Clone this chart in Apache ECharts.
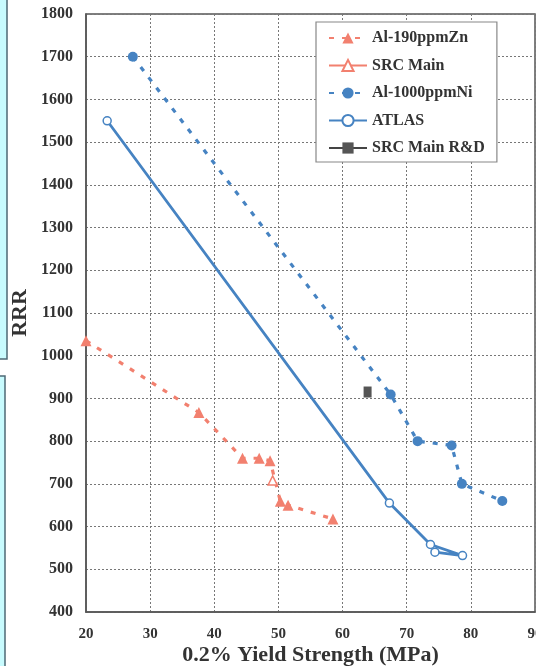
<!DOCTYPE html>
<html>
<head>
<meta charset="utf-8">
<script src="https://cdn.jsdelivr.net/npm/echarts@6/dist/echarts.min.js"></script>
<style>
  html, body { margin: 0; padding: 0; background: #fff; }
  #chart { width: 536px; height: 666px; }
</style>
</head>
<body>
<div id="chart"></div>
<script>
// 数据
const zn190X = [20, 37.6, 44.4, 47.0, 48.7, 50.3, 51.5, 58.5];
const zn190Y = [1035, 867, 760, 760, 754, 659, 650, 618];
const srcMainX = [49.1];
const srcMainY = [708];
const ni1000X = [27.3, 67.5, 71.7, 77.0, 78.6, 84.9];
const ni1000Y = [1700, 909, 800, 790, 700, 660];
const atlasX = [23.3, 67.3, 73.7, 78.7, 74.4];
const atlasY = [1550, 655, 558, 532, 540];
const rdX = [63.9];
const rdY = [915];
const seriesNames = ['Al-190ppmZn', 'SRC Main', 'Al-1000ppmNi', 'ATLAS', 'SRC Main R&D'];

const serif = '"Liberation Serif", "Times New Roman", serif';
const salmon = '#f2806f';
const blue = '#4683c2';

function zip(xs, ys) {
  return xs.map((x, i) => [x, ys[i]]);
}

let chart = echarts.init(document.getElementById('chart'));

chart.setOption({
  animation: false,
  backgroundColor: '#fff',
  grid: {
    left: 86, top: 14, width: 449, height: 598,
    outerBoundsMode: 'none', containLabel: false,
    show: true, borderColor: '#555', borderWidth: 1.5
  },
  // 左侧的青色边框（页面装饰）
  graphic: [
    { type: 'rect', shape: { x: -2, y: -2, width: 9, height: 361 },
      style: { fill: '#c8fbfe', stroke: '#4e6a76', lineWidth: 1.5 } },
    { type: 'rect', shape: { x: -2, y: 376, width: 7, height: 300 },
      style: { fill: '#c8fbfe', stroke: '#4e6a76', lineWidth: 1.5 } }
  ],
  legend: {
    data: seriesNames,
    orient: 'vertical',
    left: 316, top: 22,
    itemWidth: 38, itemHeight: 14, itemGap: 11.5,
    padding: [8, 12, 6, 12],
    backgroundColor: '#fff',
    borderColor: '#888', borderWidth: 1.2,
    textStyle: { fontFamily: serif, fontWeight: 'bold', fontSize: 16, color: '#333' }
  },
  xAxis: {
    type: 'value', min: 20, max: 90, interval: 10,
    name: '0.2% Yield Strength (MPa)', nameLocation: 'middle', nameGap: 32,
    nameMoveOverlap: false,
    nameTextStyle: { fontFamily: serif, fontWeight: 'bold', fontSize: 22, color: '#333' },
    axisLine: { lineStyle: { color: '#555', width: 1.5 } },
    axisTick: { show: false },
    axisLabel: { fontFamily: serif, fontWeight: 'bold', fontSize: 15, color: '#333', margin: 15 },
    splitLine: { lineStyle: { color: '#777', type: [2, 2], width: 1 } }
  },
  yAxis: {
    type: 'value', min: 400, max: 1800, interval: 100,
    name: 'RRR', nameLocation: 'middle', nameGap: 55,
    nameMoveOverlap: false,
    nameTextStyle: { fontFamily: serif, fontWeight: 'bold', fontSize: 22, color: '#333' },
    axisLine: { show: true, lineStyle: { color: '#555', width: 1.5 } },
    axisTick: { show: false },
    axisLabel: {
      fontFamily: serif, fontWeight: 'bold', fontSize: 16, color: '#333', margin: 13,
      formatter: (v) => String(v)
    },
    splitLine: { lineStyle: { color: '#777', type: [2, 2], width: 1 } }
  },
  series: [
    {
      name: seriesNames[0], type: 'line', data: zip(zn190X, zn190Y),
      symbol: 'triangle', symbolSize: 11, showAllSymbol: true,
      itemStyle: { color: salmon },
      lineStyle: { color: salmon, width: 3.2, type: [5, 8] }
    },
    {
      name: seriesNames[1], type: 'line', data: zip(srcMainX, srcMainY),
      symbol: 'triangle', symbolSize: 9,
      itemStyle: { color: '#fff', borderColor: salmon, borderWidth: 1.5 },
      lineStyle: { color: salmon, width: 2.5 }
    },
    {
      name: seriesNames[2], type: 'line', data: zip(ni1000X, ni1000Y),
      symbol: 'circle', symbolSize: 10, showAllSymbol: true,
      itemStyle: { color: blue },
      lineStyle: { color: blue, width: 3.2, type: [5, 8] }
    },
    {
      name: seriesNames[3], type: 'line', data: zip(atlasX, atlasY),
      symbol: 'circle', symbolSize: 8, showAllSymbol: true,
      itemStyle: { color: '#fff', borderColor: blue, borderWidth: 1.5 },
      lineStyle: { color: blue, width: 2.8 }
    },
    {
      name: seriesNames[4], type: 'line', data: zip(rdX, rdY),
      symbol: 'rect', symbolSize: [8, 11],
      itemStyle: { color: '#555' },
      lineStyle: { color: '#444', width: 1.5 }
    }
  ]
});
</script>
</body>
</html>
